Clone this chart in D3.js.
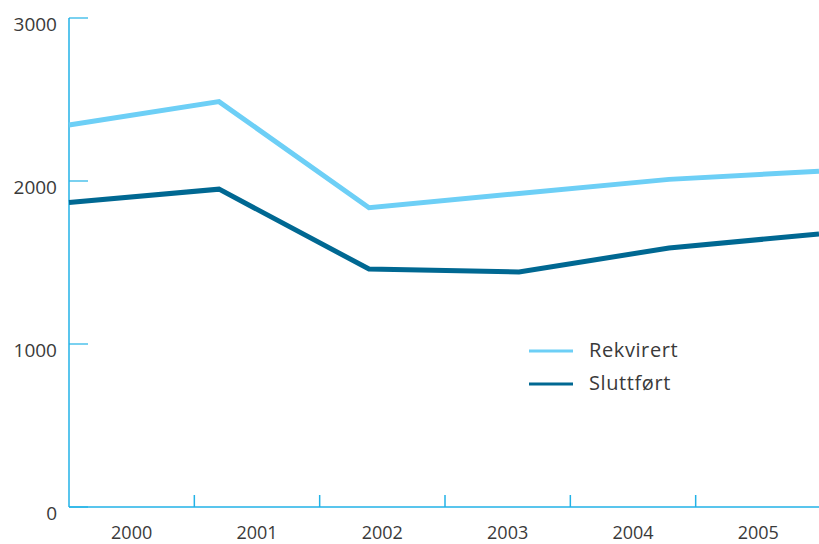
<!DOCTYPE html>
<html><head><meta charset="utf-8">
<script src="https://cdn.jsdelivr.net/npm/d3@7"></script>
<style>body{margin:0;background:#fff;}svg{display:block;}</style>
</head><body>
<svg id="c" width="819" height="544"></svg>
<script>
const years = ["2000","2001","2002","2003","2004","2005"];
const rekvirert = [2344, 2487, 1836, 1924, 2010, 2060];
const sluttfort = [1868, 1950, 1460, 1442, 1589, 1675];
const yTicks = [0, 1000, 2000, 3000];
const seriesNames = ["Rekvirert", "Sluttført"];
const seriesColors = ["#6dcff6", "#006892"];
const axisColor = "#22b2e7";
const textColor = "#3a3a3a";
const font = "'Open Sans', sans-serif";

(function () {
const svg = d3.select("#c");
const pL = 69, pR = 819, pT = 18, pB = 507;

const y = d3.scaleLinear().domain([0, 3000]).range([pB, pT]);
const xPoint = d3.scalePoint().domain(years).range([pL, pR]);
const xBand = d3.scaleBand().domain(years).range([pL, 821]);

// Y axis
svg.append("line").attr("x1", pL).attr("x2", pL).attr("y1", pT).attr("y2", pB)
  .attr("stroke", axisColor).attr("stroke-width", 1.5);
const yt = svg.append("g");
yt.selectAll("line").data(yTicks).join("line")
  .attr("x1", pL).attr("x2", pL + 19)
  .attr("y1", d => y(d)).attr("y2", d => y(d))
  .attr("stroke", axisColor).attr("stroke-width", 1.2);
yt.selectAll("text").data(yTicks).join("text")
  .attr("x", 57).attr("y", d => y(d) + 8)
  .attr("text-anchor", "end").attr("dominant-baseline", "middle")
  .attr("font-family", font).attr("font-size", 19).attr("fill", textColor)
  .text(d => d);

// X axis
svg.append("line").attr("x1", pL).attr("x2", pR).attr("y1", pB).attr("y2", pB)
  .attr("stroke", axisColor).attr("stroke-width", 1.5);
const xt = svg.append("g");
xt.selectAll("line").data(years.slice(1)).join("line")
  .attr("x1", d => xBand(d)).attr("x2", d => xBand(d))
  .attr("y1", pB).attr("y2", pB - 12)
  .attr("stroke", axisColor).attr("stroke-width", 1.5);
xt.selectAll("text").data(years).join("text")
  .attr("x", d => xBand(d) + xBand.bandwidth() / 2).attr("y", 534)
  .attr("text-anchor", "middle").attr("dominant-baseline", "middle")
  .attr("font-family", font).attr("font-size", 18).attr("fill", textColor)
  .text(d => d);

// Lines
const line = d3.line().x((d, i) => xPoint(years[i])).y(d => y(d));
[rekvirert, sluttfort].forEach((s, k) => {
  svg.append("path").attr("d", line(s)).attr("fill", "none")
    .attr("stroke", seriesColors[k]).attr("stroke-width", 5)
    .attr("stroke-linejoin", "miter");
});

// Legend
const lg = svg.append("g");
seriesNames.forEach((n, k) => {
  const ly = 351 + k * 33;
  lg.append("line").attr("x1", 529).attr("x2", 573).attr("y1", ly).attr("y2", ly)
    .attr("stroke", seriesColors[k]).attr("stroke-width", 3);
  lg.append("text").attr("x", 589).attr("y", ly + 1).attr("dominant-baseline", "middle")
    .attr("font-family", font).attr("font-size", 20).attr("letter-spacing", 0.6)
    .attr("fill", textColor).text(n);
});
})();
</script>
</body></html>
